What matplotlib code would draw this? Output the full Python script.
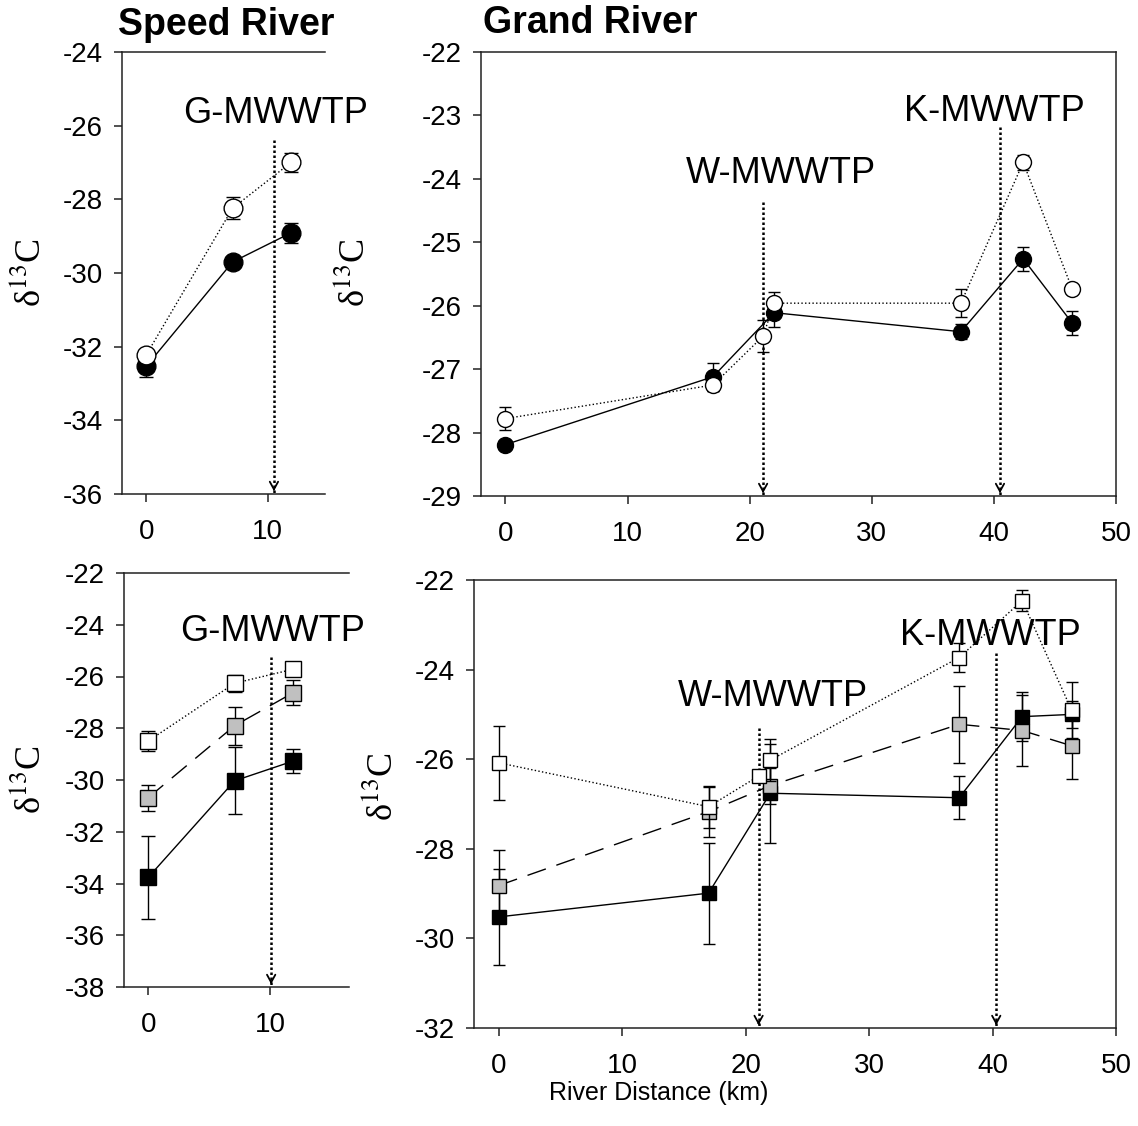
import numpy as np
import matplotlib
matplotlib.use('Agg')
import matplotlib.pyplot as plt

plt.rcParams['font.family'] = ['Liberation Sans', 'DejaVu Sans']
plt.rcParams['mathtext.fontset'] = 'stix'

# ---- data ----
speed_x = [0, 7.1, 11.9]
speed_doc_filled = [-32.53, -29.70, -28.91]
speed_doc_filled_err = [0.30, 0.10, 0.28]
speed_doc_open = [-32.22, -28.24, -27.00]
speed_doc_open_err = [0.10, 0.30, 0.25]

speed_black = [-33.76, -30.03, -29.27]
speed_black_err = [1.60, 1.29, 0.45]
speed_gray = [-30.68, -27.90, -26.63]
speed_gray_err = [0.50, 0.74, 0.48]
speed_white = [-28.49, -26.26, -25.72]
speed_white_err = [0.39, 0.33, 0.10]

grand_x_filled = [0, 17.0, 22.0, 37.3, 42.4, 46.4]
grand_doc_filled = [-28.19, -27.12, -26.11, -26.41, -25.26, -26.27]
grand_doc_filled_err = [0.08, 0.22, 0.22, 0.12, 0.19, 0.19]
grand_x_open = [0, 17.0, 21.1, 22.0, 37.3, 42.4, 46.4]
grand_doc_open = [-27.78, -27.25, -26.48, -25.96, -25.96, -23.74, -25.73]
grand_doc_open_err = [0.18, 0.10, 0.25, 0.17, 0.22, 0.12, 0.08]

grand_black = [-29.52, -28.99, -26.76, -26.86, -25.05, -25.00]
grand_black_err = [1.07, 1.13, 1.10, 0.48, 0.55, 0.30]
grand_gray = [-28.82, -27.17, -26.59, -25.22, -25.36, -25.70]
grand_gray_err = [0.79, 0.56, 0.40, 0.86, 0.79, 0.75]
grand_white = [-26.08, -27.06, -26.37, -26.02, -23.73, -22.46, -24.90]
grand_white_err = [0.83, 0.47, 0.10, 0.47, 0.33, 0.24, 0.63]

# plant labels
speed_plant = ['G-MWWTP']
grand_plants = ['W-MWWTP', 'K-MWWTP']

W, H = 1138, 1126
fig = plt.figure(figsize=(W / 100, H / 100), dpi=100)


def box(x0, y0, x1, y1):
    return [x0 / W, 1 - y1 / H, (x1 - x0) / W, (y1 - y0) / H]


ax1 = fig.add_axes(box(122, 52, 325, 494))
ax2 = fig.add_axes(box(481, 52, 1116, 496))
ax3 = fig.add_axes(box(124, 573, 349, 987))
ax4 = fig.add_axes(box(474, 580, 1116, 1028))

spine_c = '#222222'


def style(ax, ylim, yticks, xlim, xticks, right=True):
    ax.set_ylim(*ylim)
    ax.set_xlim(*xlim)
    ax.set_yticks(yticks)
    ax.set_xticks(xticks)
    ax.set_yticklabels([str(v) for v in yticks])
    for s in ax.spines.values():
        s.set_linewidth(1.1)
        s.set_color(spine_c)
    ax.spines['right'].set_visible(right)
    ax.tick_params(direction='out', length=6, width=1.1, color=spine_c,
                   labelsize=20, top=False, right=False)
    ax.tick_params(axis='y', pad=8)
    ax.tick_params(axis='x', pad=12)


def series(ax, x, y, err, marker, face, line, ms, cap, z):
    kw = dict(color='k', lw=1.0)
    if line == 'dot':
        kw['ls'] = ':'
    elif line == 'dash':
        kw['dashes'] = (14, 8)
    ax.plot(x, y, zorder=z, **kw)
    ax.errorbar(x, y, yerr=err, fmt='none', ecolor='k', elinewidth=1.0,
                capsize=cap, capthick=1.0, zorder=z + 0.1)
    ax.plot(x, y, marker, ms=ms, mfc=face, mec='k', mew=1.0, ls='none', zorder=z + 0.2)


def plant(ax, x, ytop, label, tx, ty, fs=26):
    y0 = ax.get_ylim()[0]
    ax.plot([x, x], [ytop, y0], color='k', lw=1.8, ls=(0, (1, 1)), zorder=1, clip_on=False)
    ax.annotate('', xy=(x, y0), xytext=(x, y0 + 0.02 * (ax.get_ylim()[1] - y0)),
                arrowprops=dict(arrowstyle='->,head_length=0.55,head_width=0.3', lw=1.3, color='k'),
                annotation_clip=False)
    ax.text(tx, ty, label, fontsize=fs, ha='center', va='center', clip_on=False, zorder=6)


# top-left: Speed River circles
style(ax1, (-36, -24), list(range(-36, -23, 2)), (-2, 14.7), [0, 10], right=False)
plant(ax1, 10.5, -26.4, speed_plant[0], 10.6, -25.66)
series(ax1, speed_x, speed_doc_filled, speed_doc_filled_err, 'o', 'k', 'solid', 13.5, 5, 3)
series(ax1, speed_x, speed_doc_open, speed_doc_open_err, 'o', 'white', 'dot', 13.5, 5, 4)

# top-right: Grand River circles
style(ax2, (-29, -22), list(range(-29, -21)), (-2, 50), list(range(0, 51, 10)))
plant(ax2, 21.1, -24.37, grand_plants[0], 22.6, -23.91)
plant(ax2, 40.5, -23.19, grand_plants[1], 40.0, -22.94)
series(ax2, grand_x_filled, grand_doc_filled, grand_doc_filled_err, 'o', 'k', 'solid', 11.5, 4.3, 3)
series(ax2, grand_x_open, grand_doc_open, grand_doc_open_err, 'o', 'white', 'dot', 11.5, 4.3, 4)

# bottom-left: Speed River squares
style(ax3, (-38, -22), list(range(-38, -21, 2)), (-2, 16.5), [0, 10], right=False)
plant(ax3, 10.1, -25.24, speed_plant[0], 10.2, -24.27)
series(ax3, speed_x, speed_black, speed_black_err, 's', 'k', 'solid', 11.5, 5, 3)
series(ax3, speed_x, speed_gray, speed_gray_err, 's', '#c0c0c0', 'dash', 11.5, 5, 4)
series(ax3, speed_x, speed_white, speed_white_err, 's', 'white', 'dot', 11.5, 5, 5)

# bottom-right: Grand River squares
style(ax4, (-32, -22), list(range(-32, -21, 2)), (-2, 50), list(range(0, 51, 10)))
plant(ax4, 21.05, -25.3, grand_plants[0], 22.2, -24.6)
plant(ax4, 40.3, -23.62, grand_plants[1], 39.8, -23.23)
series(ax4, grand_x_filled, grand_black, grand_black_err, 's', 'k', 'solid', 10.5, 4.3, 3)
series(ax4, grand_x_filled, grand_gray, grand_gray_err, 's', '#c0c0c0', 'dash', 10.5, 4.3, 4)
series(ax4, grand_x_open, grand_white, grand_white_err, 's', 'white', 'dot', 10.5, 4.3, 5)

# labels
ylab = 'δ$^{13}$C'
for (px, py) in [(31, 273), (355, 273), (30, 780), (382, 787)]:
    fig.text(px / W, 1 - py / H, ylab, rotation=90, fontsize=26, ha='center', va='center',
             family=['Liberation Serif', 'DejaVu Serif'])

fig.text(118 / W, 1 - 25 / H, 'Speed River', fontsize=27, fontweight='bold', ha='left', va='center')
fig.text(483 / W, 1 - 23 / H, 'Grand River', fontsize=27, fontweight='bold', ha='left', va='center')
fig.text(659 / W, 1 - 1093 / H, 'River Distance (km)', fontsize=18, ha='center', va='center')

fig.savefig('out.png', dpi=100)
